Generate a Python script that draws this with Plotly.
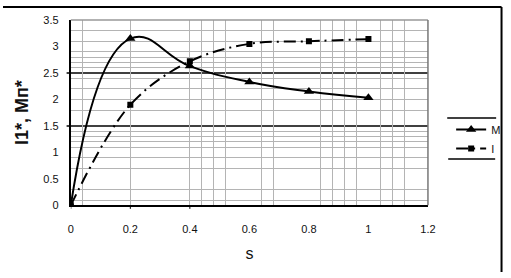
import plotly.graph_objects as go

s = [0, 0.2, 0.4, 0.6, 0.8, 1.0]
M = [0, 3.15, 2.63, 2.33, 2.15, 2.03]
I = [0, 1.9, 2.72, 3.05, 3.10, 3.14]
x_ticks = [0, 0.2, 0.4, 0.6, 0.8, 1, 1.2]
x_labels = ["0", "0.2", "0.4", "0.6", "0.8", "1", "1.2"]
y_ticks = [0, 0.5, 1, 1.5, 2, 2.5, 3, 3.5]
y_labels = ["0", "0.5", "1", "1.5", "2", "2.5", "3", "3.5"]
x_grid = [0.04, 0.2, 0.4, 0.44, 0.48, 0.52, 0.64, 0.68, 0.84, 0.88, 0.92, 0.96, 1.04, 1.08, 1.12]
y_grid = [0.1, 0.3, 0.7, 0.9, 1.1, 1.2, 1.3, 1.4, 1.8, 2.0, 2.2, 2.4, 2.6, 2.7, 2.8, 2.9, 3.1, 3.3]
y_major = [1.5, 2.5]

W, H = 511, 278
def px(v):
    return v / W
def py(v):
    return 1 - v / H

fig = go.Figure()
fig.add_trace(go.Scatter(x=s, y=M, name="M", mode="lines+markers",
                         line=dict(color="black", width=2, shape="spline", smoothing=1.3),
                         marker=dict(symbol="triangle-up", size=9, color="black")))
fig.add_trace(go.Scatter(x=s, y=I, name="I", mode="lines+markers",
                         line=dict(color="black", width=2, shape="spline", smoothing=1.0,
                                   dash="12px,5px,2px,5px"),
                         marker=dict(symbol="square", size=6, color="black")))

font = dict(family="Liberation Sans, Arial", size=11, color="#111")
fig.update_layout(
    width=W, height=H, autosize=False,
    margin=dict(l=0, r=0, t=0, b=0, pad=0),
    paper_bgcolor="white", plot_bgcolor="white",
    font=font,
    showlegend=True,
    legend=dict(x=px(458), y=py(114), xanchor="left", yanchor="top",
                bgcolor="rgba(0,0,0,0)", borderwidth=0,
                font=dict(family="Liberation Sans, Arial", size=11, color="#111"),
                itemwidth=30, tracegroupgap=2),
    xaxis=dict(domain=[px(69.3), px(434.3)], range=[0, 1.2],
               tickmode="array", tickvals=x_ticks, ticktext=x_labels,
               showgrid=False, zeroline=False, ticks="", ticklabelstandoff=12,
               showline=True, linecolor="black", linewidth=2,
               minor=dict(tickmode="array", tickvals=x_grid, showgrid=True,
                          gridcolor="#b4b4b4", gridwidth=1, ticks=""),
               title=dict(text="s", font=dict(size=16, color="#111"), standoff=14)),
    yaxis=dict(domain=[py(208.3), py(14.7)], range=[0, 3.5],
               tickmode="array", tickvals=y_ticks, ticktext=y_labels,
               showgrid=False, zeroline=False, ticks="", ticklabelstandoff=8,
               showline=True, linecolor="black", linewidth=2,
               minor=dict(tickmode="array", tickvals=y_grid, showgrid=True,
                          gridcolor="#b4b4b4", gridwidth=1, ticks=""),
               title=dict(text="<b>I1*, Мп*</b>", font=dict(size=18, color="#111"), standoff=10)),
)

shapes = []
shapes.append(dict(type="line", xref="paper", yref="paper", x0=px(69.3), x1=px(434.3),
                   y0=py(14.7), y1=py(14.7), line=dict(color="#999", width=1.5)))
shapes.append(dict(type="line", xref="paper", yref="paper", x0=px(434.3), x1=px(434.3),
                   y0=py(14.7), y1=py(208.3), line=dict(color="#777", width=1.5)))
for yv in y_major:
    shapes.append(dict(type="line", xref="paper", yref="y", x0=px(65), x1=px(434.3),
                       y0=yv, y1=yv, line=dict(color="black", width=1.5), layer="below"))
for xv in [0, 0.2, 0.4]:
    shapes.append(dict(type="line", xref="x", yref="paper", x0=xv, x1=xv,
                       y0=py(208.3), y1=py(212), line=dict(color="black", width=1)))
shapes.append(dict(type="line", xref="paper", yref="paper", x0=px(454), x1=px(504),
                   y0=py(117), y1=py(117), line=dict(color="black", width=1.5)))
shapes.append(dict(type="line", xref="paper", yref="paper", x0=px(455), x1=px(503),
                   y0=py(160), y1=py(160), line=dict(color="black", width=1.5)))
# outer frame (top and right edges visible)
shapes.append(dict(type="line", xref="paper", yref="paper", x0=0, x1=px(509.5),
                   y0=py(1), y1=py(1), line=dict(color="black", width=2)))
shapes.append(dict(type="line", xref="paper", yref="paper", x0=px(509.5), x1=px(509.5),
                   y0=0, y1=py(1), line=dict(color="black", width=2)))
fig.update_layout(shapes=shapes)

fig.write_html("out.html")
